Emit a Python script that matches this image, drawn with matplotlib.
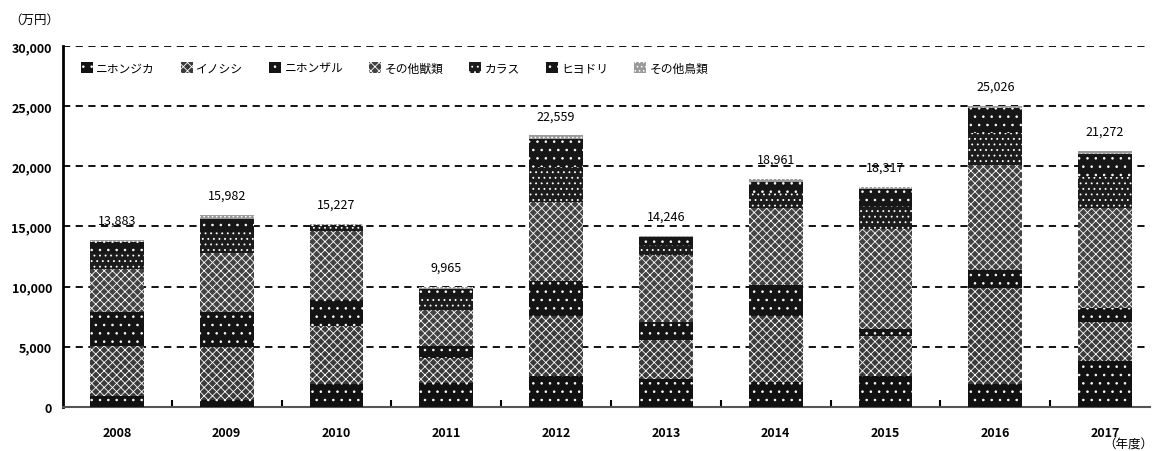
import numpy as np
import matplotlib.pyplot as plt

plt.rcParams['font.family'] = ['Noto Sans CJK JP', 'DejaVu Sans']
plt.rcParams['hatch.linewidth'] = 0.6

years = ['2008', '2009', '2010', '2011', '2012', '2013', '2014', '2015', '2016', '2017']
totals = [13883, 15982, 15227, 9965, 22559, 14246, 18961, 18317, 25026, 21272]

# 被害額（万円）: 下から積み上げ
shika = [900, 600, 1900, 2000, 2600, 2300, 2100, 2600, 1900, 3800]
inoshishi = [4200, 4400, 4850, 2100, 5000, 3300, 5500, 3300, 8000, 3300]
saru = [2800, 2900, 2100, 950, 2900, 1500, 2500, 600, 1500, 1100]
sonota_jyu = [3600, 4900, 5800, 3050, 6500, 5500, 6400, 8300, 8700, 8300]
karasu = [1300, 1700, 300, 1000, 2900, 900, 1300, 1900, 2700, 2600]
hiyodori = [900, 1100, 180, 700, 2400, 600, 900, 1400, 2000, 1950]
sonota_tori = [183, 382, 97, 165, 259, 146, 261, 217, 226, 222]

series = [
    ('ニホンジカ', shika, '#111111', '..'),
    ('イノシシ', inoshishi, '#3a3a3a', 'xxxx'),
    ('ニホンザル', saru, '#141414', '..'),
    ('その他獣類', sonota_jyu, '#424242', 'xxxx'),
    ('カラス', karasu, '#1c1c1c', '...'),
    ('ヒヨドリ', hiyodori, '#161616', '..'),
    ('その他鳥類', sonota_tori, '#9a9a9a', '....'),
]

fig = plt.figure(figsize=(11.54, 4.52), dpi=100)
ax = fig.add_axes([0.0546, 0.0973, 0.942, 0.799])

x = np.arange(len(years))
bottom = np.zeros(len(years))
for name, vals, col, hat in series:
    ax.bar(x, vals, width=0.49, bottom=bottom, color=col, edgecolor='white',
           linewidth=0, hatch=hat, label=name, zorder=3)
    bottom += np.array(vals)

for xi, t in zip(x, totals):
    ax.text(xi, t + 1100, f'{t:,}', ha='center', va='bottom', fontsize=9, zorder=4)

ax.set_xlim(-0.49, 9.41)
ax.set_ylim(0, 30000)
ax.set_yticks(np.arange(0, 30001, 5000))
ax.set_yticklabels([f'{v:,}' for v in range(0, 30001, 5000)], fontsize=9, fontweight='bold')
ax.yaxis.grid(True, color='black', linestyle=(0, (4, 3)), linewidth=1.3, zorder=1)
ax.tick_params(axis='y', length=0, pad=8)

ax.set_xticks(x)
ax.set_xticklabels(years, fontsize=9, fontweight='bold')
ax.tick_params(axis='x', length=0, pad=14)
ax.set_xticks(x[:-1] + 0.5, minor=True)
ax.tick_params(axis='x', which='minor', direction='in', length=5, width=1.5, color='black')

for s in ['top', 'right']:
    ax.spines[s].set_visible(False)
ax.spines['left'].set_linewidth(2)
ax.spines['bottom'].set_linewidth(1.5)
ax.spines['bottom'].set_color('#555555')

fig.text(0.008, 0.955, '（万円）', fontsize=9, ha='left', va='center')
fig.text(0.999, 0.0, '（年度）', fontsize=9, ha='right', va='bottom')

ax.legend(loc='upper left', bbox_to_anchor=(0.012, 0.97), ncol=7, frameon=False,
          fontsize=8.5, handlelength=1.0, handleheight=1.0, handletextpad=0.3,
          columnspacing=2.2, borderaxespad=0)

fig.savefig('out.png', dpi=100)
